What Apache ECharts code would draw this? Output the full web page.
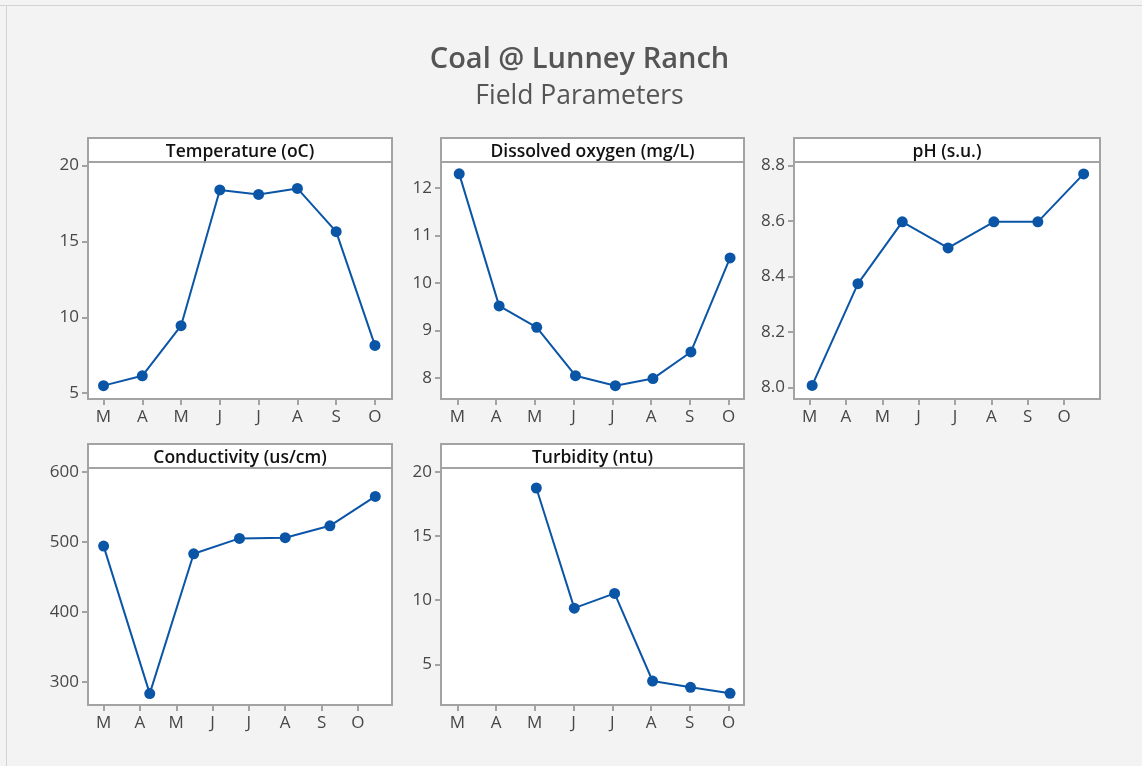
<!DOCTYPE html>
<html>
<head>
<meta charset="utf-8">
<script src="https://cdn.jsdelivr.net/npm/echarts@6/dist/echarts.min.js"></script>
<style>
html,body{margin:0;padding:0;background:#f3f3f3;}
#chart{width:1142px;height:766px;}
</style>
</head>
<body>
<div id="chart"></div>
<script>
// ---- data ----
const monthLabels = ['M','A','M','J','J','A','S','O'];
const monthTicks = [0,1,2,3,4,5,6,7];

const titleText = 'Coal @ Lunney Ranch';
const subtitleText = 'Field Parameters';

const panelNames = ['Temperature (oC)','Dissolved oxygen (mg/L)','pH (s.u.)','Conductivity (us/cm)','Turbidity (ntu)'];

const tempX = [0,1,2,3,4,5,6,7];
const tempY = [5.5,6.15,9.45,18.4,18.1,18.5,15.65,8.15];
const tempTicks = [5,10,15,20];

const doX = [0.05,1.08,2.05,3.05,4.08,5.05,6.03,7.04];
const doY = [12.3,9.52,9.07,8.05,7.84,7.99,8.55,10.53];
const doTicks = [8,9,10,11,12];

const phX = [0.07,1.33,2.55,3.81,5.07,6.28,7.54];
const phY = [8.007,8.374,8.597,8.503,8.597,8.597,8.77];
const phTicks = [8.0,8.2,8.4,8.6,8.8];

const condX = [0,1.27,2.48,3.74,5.0,6.23,7.48];
const condY = [494,283,483,505,506,523,565];
const condTicks = [300,400,500,600];

const turbX = [2.04,3.02,4.06,5.04,6.02,7.04];
const turbY = [18.75,9.38,10.53,3.7,3.21,2.74];
const turbTicks = [5,10,15,20];

// ---- layout / style ----
const FONT = '"Open Sans", "Noto Sans", sans-serif';
const frameColor = '#a3a3a3';
const lineColor = '#0b55a7';
const labelColor = '#474747';
const panels = [
  {x:tempX, y:tempY, ticks:tempTicks, dec:0, grid:{left:88, top:162, width:304, height:237}, xr:[-0.4,7.44], yr:[4.62,20.24]},
  {x:doX, y:doY, ticks:doTicks, dec:0, grid:{left:441, top:162, width:303, height:237}, xr:[-0.42,7.40], yr:[7.56,12.55]},
  {x:phX, y:phY, ticks:phTicks, dec:1, grid:{left:794, top:162, width:306, height:237}, xr:[-0.43,7.99], yr:[7.958,8.813]},
  {x:condX, y:condY, ticks:condTicks, dec:0, grid:{left:88, top:468, width:304, height:237}, xr:[-0.43,7.94], yr:[266.7,605.7]},
  {x:turbX, y:turbY, ticks:turbTicks, dec:0, grid:{left:441, top:468, width:303, height:237}, xr:[-0.42,7.40], yr:[1.83,20.31]}
];
const headerH = 24;

const grids = [], xAxes = [], yAxes = [], series = [], graphics = [];

graphics.push({type:'line', shape:{x1:0,y1:5.5,x2:1142,y2:5.5}, style:{stroke:'#d2d2d2', lineWidth:1}, silent:true});
graphics.push({type:'line', shape:{x1:6.5,y1:5,x2:6.5,y2:766}, style:{stroke:'#d2d2d2', lineWidth:1}, silent:true});
graphics.push({type:'text', x:579.5, y:60, style:{text:titleText, align:'center', verticalAlign:'middle', font:'600 29px ' + FONT, fill:'#555555'}});
graphics.push({type:'text', x:579.5, y:96, style:{text:subtitleText, align:'center', verticalAlign:'middle', font:'400 26.5px ' + FONT, fill:'#555555'}});

panels.forEach((p, i) => {
  grids.push(Object.assign({show:true, backgroundColor:'#ffffff', borderColor:frameColor, borderWidth:2, containLabel:false}, p.grid));
  xAxes.push({
    type:'value', gridIndex:i, min:p.xr[0], max:p.xr[1],
    axisLine:{show:false, onZero:false}, splitLine:{show:false},
    axisTick:{show:true, customValues:monthTicks, length:6, lineStyle:{color:frameColor, width:2}},
    axisLabel:{customValues:monthTicks, margin:10, fontSize:17, fontFamily:FONT, color:labelColor,
      formatter:(v)=>monthLabels[Math.round(v)]}
  });
  yAxes.push({
    type:'value', gridIndex:i, min:p.yr[0], max:p.yr[1],
    axisLine:{show:false, onZero:false}, splitLine:{show:false},
    axisTick:{show:true, customValues:p.ticks, length:6, lineStyle:{color:frameColor, width:2}},
    axisLabel:{customValues:p.ticks, margin:9, fontSize:17, fontFamily:FONT, color:labelColor,
      formatter:(v)=>Number(v).toFixed(p.dec)}
  });
  series.push({
    type:'line', xAxisIndex:i, yAxisIndex:i,
    data:p.x.map((xv, k) => [xv, p.y[k]]),
    symbol:'circle', symbolSize:11, showSymbol:true,
    lineStyle:{color:lineColor, width:2}, itemStyle:{color:lineColor},
    animation:false
  });
  graphics.push({type:'rect', shape:{x:p.grid.left, y:p.grid.top - headerH, width:p.grid.width, height:headerH},
    style:{fill:'#ffffff', stroke:frameColor, lineWidth:2}, z:10});
  graphics.push({type:'text', x:p.grid.left + p.grid.width/2, y:p.grid.top - headerH/2 + 2,
    style:{text:panelNames[i], align:'center', verticalAlign:'middle', font:'600 17.5px ' + FONT, fill:'#111111'}, z:11});
});

const chart = echarts.init(document.getElementById('chart'), null, {renderer:'canvas'});
chart.setOption({
  backgroundColor:'#f3f3f3',
  animation:false,
  grid:grids, xAxis:xAxes, yAxis:yAxes, series:series,
  graphic:graphics
});
</script>
</body>
</html>
